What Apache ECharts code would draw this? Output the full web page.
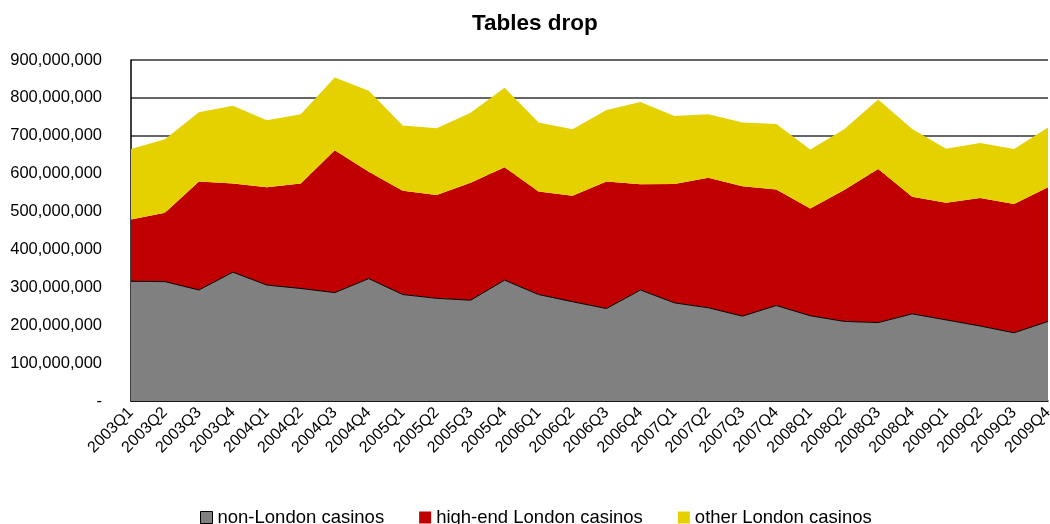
<!DOCTYPE html>
<html>
<head>
<meta charset="utf-8">
<script src="https://cdn.jsdelivr.net/npm/echarts@6/dist/echarts.min.js"></script>
<style>
  html, body { margin: 0; padding: 0; background: #ffffff; }
  #chart { width: 1050px; height: 524px; }
</style>
</head>
<body>
<div id="chart"></div>
<script>
// Quarterly tables drop, stacked by casino segment
const quarters = [
  '2003Q1','2003Q2','2003Q3','2003Q4','2004Q1','2004Q2','2004Q3','2004Q4',
  '2005Q1','2005Q2','2005Q3','2005Q4','2006Q1','2006Q2','2006Q3','2006Q4',
  '2007Q1','2007Q2','2007Q3','2007Q4','2008Q1','2008Q2','2008Q3','2008Q4',
  '2009Q1','2009Q2','2009Q3','2009Q4'
];

const nonLondon = [
  316000000, 315000000, 293000000, 340000000, 306000000, 297000000, 286000000, 323000000,
  281000000, 271000000, 266000000, 319000000, 281000000, 262000000, 244000000, 293000000,
  259000000, 246000000, 224000000, 252000000, 225000000, 210000000, 207000000, 230000000,
  214000000, 198000000, 180000000, 210000000
];

const highEndLondon = [
  163000000, 182000000, 286000000, 234000000, 258000000, 277000000, 376000000, 282000000,
  274000000, 273000000, 310000000, 298000000, 272000000, 280000000, 335000000, 279000000,
  314000000, 343000000, 343000000, 306000000, 283000000, 347000000, 405000000, 309000000,
  309000000, 338000000, 340000000, 354000000
];

const otherLondon = [
  186000000, 194000000, 183000000, 205000000, 177000000, 183000000, 192000000, 214000000,
  172000000, 176000000, 185000000, 210000000, 182000000, 175000000, 189000000, 217000000,
  179000000, 168000000, 168000000, 173000000, 156000000, 160000000, 184000000, 179000000,
  143000000, 145000000, 145000000, 158000000
];

const FONT = '"Liberation Sans", Arial, sans-serif';

const chart = echarts.init(document.getElementById('chart'), null, { renderer: 'canvas' });

function fmt(v) {
  if (v === 0) return '-';
  return v.toLocaleString('en-US');
}

chart.setOption({
  animation: false,
  backgroundColor: '#ffffff',
  title: {
    text: 'Tables drop',
    left: 467,
    top: 7,
    textStyle: { fontFamily: FONT, fontSize: 22.5, fontWeight: 'bold', color: '#000000' }
  },
  legend: {
    top: 503,
    left: 195,
    itemWidth: 12,
    itemHeight: 12,
    itemGap: 35,
    icon: 'rect',
    textStyle: { fontFamily: FONT, fontSize: 18.5, color: '#000000' },
    data: [
      { name: 'non-London casinos', itemStyle: { color: '#808080', borderColor: '#000000', borderWidth: 1 } },
      { name: 'high-end London casinos', itemStyle: { color: '#c00000' } },
      { name: 'other London casinos', itemStyle: { color: '#e5d000' } }
    ]
  },
  grid: { left: 131, right: 2, top: 60, bottom: 123, containLabel: false, outerBoundsMode: 'none' },
  xAxis: {
    type: 'category',
    data: quarters,
    boundaryGap: false,
    axisLine: { show: true, lineStyle: { color: '#000000', width: 1.5 } },
    axisTick: { show: false },
    axisLabel: {
      interval: 0,
      rotate: 45,
      margin: 9,
      fontFamily: FONT,
      fontSize: 16,
      color: '#000000'
    },
    splitLine: { show: false }
  },
  yAxis: {
    type: 'value',
    min: 0,
    max: 900000000,
    interval: 100000000,
    axisLine: { show: true, lineStyle: { color: '#000000', width: 1.5 } },
    axisTick: { show: false },
    axisLabel: {
      formatter: fmt,
      margin: 29,
      fontFamily: FONT,
      fontSize: 16.5,
      color: '#000000'
    },
    splitLine: { show: true, lineStyle: { color: '#333333', width: 1.5 } }
  },
  series: [
    {
      name: 'non-London casinos',
      type: 'line',
      stack: 'drop',
      data: nonLondon,
      symbol: 'none',
      lineStyle: { color: '#000000', width: 1 },
      areaStyle: { color: '#808080', opacity: 1 },
      itemStyle: { color: '#808080' },
      z: 3
    },
    {
      name: 'high-end London casinos',
      type: 'line',
      stack: 'drop',
      data: highEndLondon,
      symbol: 'none',
      lineStyle: { width: 0, color: '#c00000' },
      areaStyle: { color: '#c00000', opacity: 1 },
      itemStyle: { color: '#c00000' },
      z: 2
    },
    {
      name: 'other London casinos',
      type: 'line',
      stack: 'drop',
      data: otherLondon,
      symbol: 'none',
      lineStyle: { width: 0, color: '#e5d000' },
      areaStyle: { color: '#e5d000', opacity: 1 },
      itemStyle: { color: '#e5d000' },
      z: 2
    }
  ]
});
</script>
</body>
</html>
